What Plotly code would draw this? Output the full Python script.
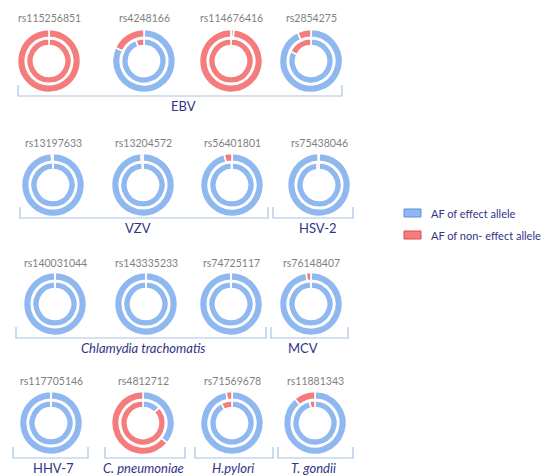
import plotly.graph_objects as go

W, H = 550, 476

snps = ["rs115256851", "rs4248166", "rs114676416", "rs2854275",
        "rs13197633", "rs13204572", "rs56401801", "rs75438046",
        "rs140031044", "rs143335233", "rs74725117", "rs76148407",
        "rs117705146", "rs4812712", "rs71569678", "rs11881343"]
# allele frequency of the effect allele (outer ring / inner ring)
outer_effect = [0.001, 0.82, 0.015, 0.93,
                0.992, 0.99, 0.96, 0.996,
                0.999, 0.999, 0.999, 0.975,
                0.999, 0.36, 0.97, 0.89]
inner_effect = [0.001, 0.94, 0.001, 0.82,
                0.999, 0.995, 0.996, 0.985,
                0.999, 0.999, 0.999, 0.999,
                0.999, 0.13, 0.92, 0.96]
allele_labels = ["AF of effect allele", "AF of non- effect allele"]

groups = ["EBV", "VZV", "HSV-2", "<i>Chlamydia trachomatis</i>", "MCV",
          "HHV-7", "<i>C. pneumoniae</i>", "<i>H.pylori</i>", "<i>T. gondii</i>"]

BLUE = "#8fb7f0"
RED = "#f47c7c"
BRACKET = "#a8c3e3"
NAVY = "#333385"

# layout positions (px)
col_x = [[41, 136, 223, 303], [45, 135, 224, 311], [47, 138, 223, 303], [43, 135, 224, 307]]
row_y = [53, 177, 296, 415]
label_y = [10, 135, 255, 373]
R_OUT, R_MID, R_IN, R_HOLE = 31.5, 23.8, 22.4, 15.5

# bracket spans: (x0, x1, line_y, group index, label_x)
brackets = [(10, 334, 88, 0, 175),
            (12, 260, 210, 1, 130), (265, 345, 210, 2, 310),
            (8, 258, 330, 3, 135), (263, 340, 330, 4, 295),
            (5, 80, 450, 5, 45), (97, 177, 450, 6, 135),
            (187, 265, 450, 7, 225), (270, 345, 450, 8, 305)]

def px_dom(cx, cy, r):
    return dict(x=[(cx - r) / W, (cx + r) / W], y=[1 - (cy + r) / H, 1 - (cy - r) / H])

fig = go.Figure()
annotations = []
shapes = []
for i, name in enumerate(snps):
    r, c = divmod(i, 4)
    cx, cy = col_x[r][c], row_y[r]
    for eff, rad, hole in [(outer_effect[i], R_OUT, R_MID / R_OUT), (inner_effect[i], R_IN, R_HOLE / R_IN)]:
        fig.add_trace(go.Pie(
            labels=allele_labels, values=[eff, 1 - eff],
            domain=px_dom(cx, cy, rad), hole=hole, sort=False,
            direction="clockwise", rotation=0, textinfo="none",
            marker=dict(colors=[BLUE, RED], line=dict(color="white", width=1.6)),
            showlegend=False, name=name))
    annotations.append(dict(x=cx / W, y=1 - label_y[r] / H, xref="paper", yref="paper",
                            text=name, showarrow=False, xanchor="center", yanchor="middle",
                            font=dict(family="Lato", size=10.5, color="#7f7f7f")))

for x0, x1, ly, gi, lx in brackets:
    tick = 11
    path = (f"M {x0/W},{1-(ly-tick)/H} L {x0/W},{1-ly/H} "
            f"L {x1/W},{1-ly/H} L {x1/W},{1-(ly-tick)/H}")
    shapes.append(dict(type="path", path=path, xref="paper", yref="paper",
                       line=dict(color=BRACKET, width=1.2)))
    annotations.append(dict(x=lx / W, y=1 - (ly + 10) / H, xref="paper", yref="paper",
                            text=groups[gi], showarrow=False, xanchor="center", yanchor="middle",
                            font=dict(family="Lato", size=13, color=NAVY)))

# legend
for k, (col, edge) in enumerate([(BLUE, "#5f8fd6"), (RED, "#d94f4f")]):
    yc = 205 + 22 * k
    shapes.append(dict(type="rect", xref="paper", yref="paper",
                       x0=396 / W, x1=413 / W, y0=1 - (yc + 4) / H, y1=1 - (yc - 4) / H,
                       fillcolor=col, line=dict(color=edge, width=1)))
    annotations.append(dict(x=421 / W, y=1 - yc / H, xref="paper", yref="paper",
                            text=allele_labels[k], showarrow=False, xanchor="left", yanchor="middle",
                            font=dict(family="Lato", size=11, color=NAVY)))

fig.update_layout(width=W, height=H, margin=dict(l=0, r=0, t=0, b=0),
                  paper_bgcolor="white", plot_bgcolor="white",
                  annotations=annotations, shapes=shapes, showlegend=False)
fig.write_html("out.html")
